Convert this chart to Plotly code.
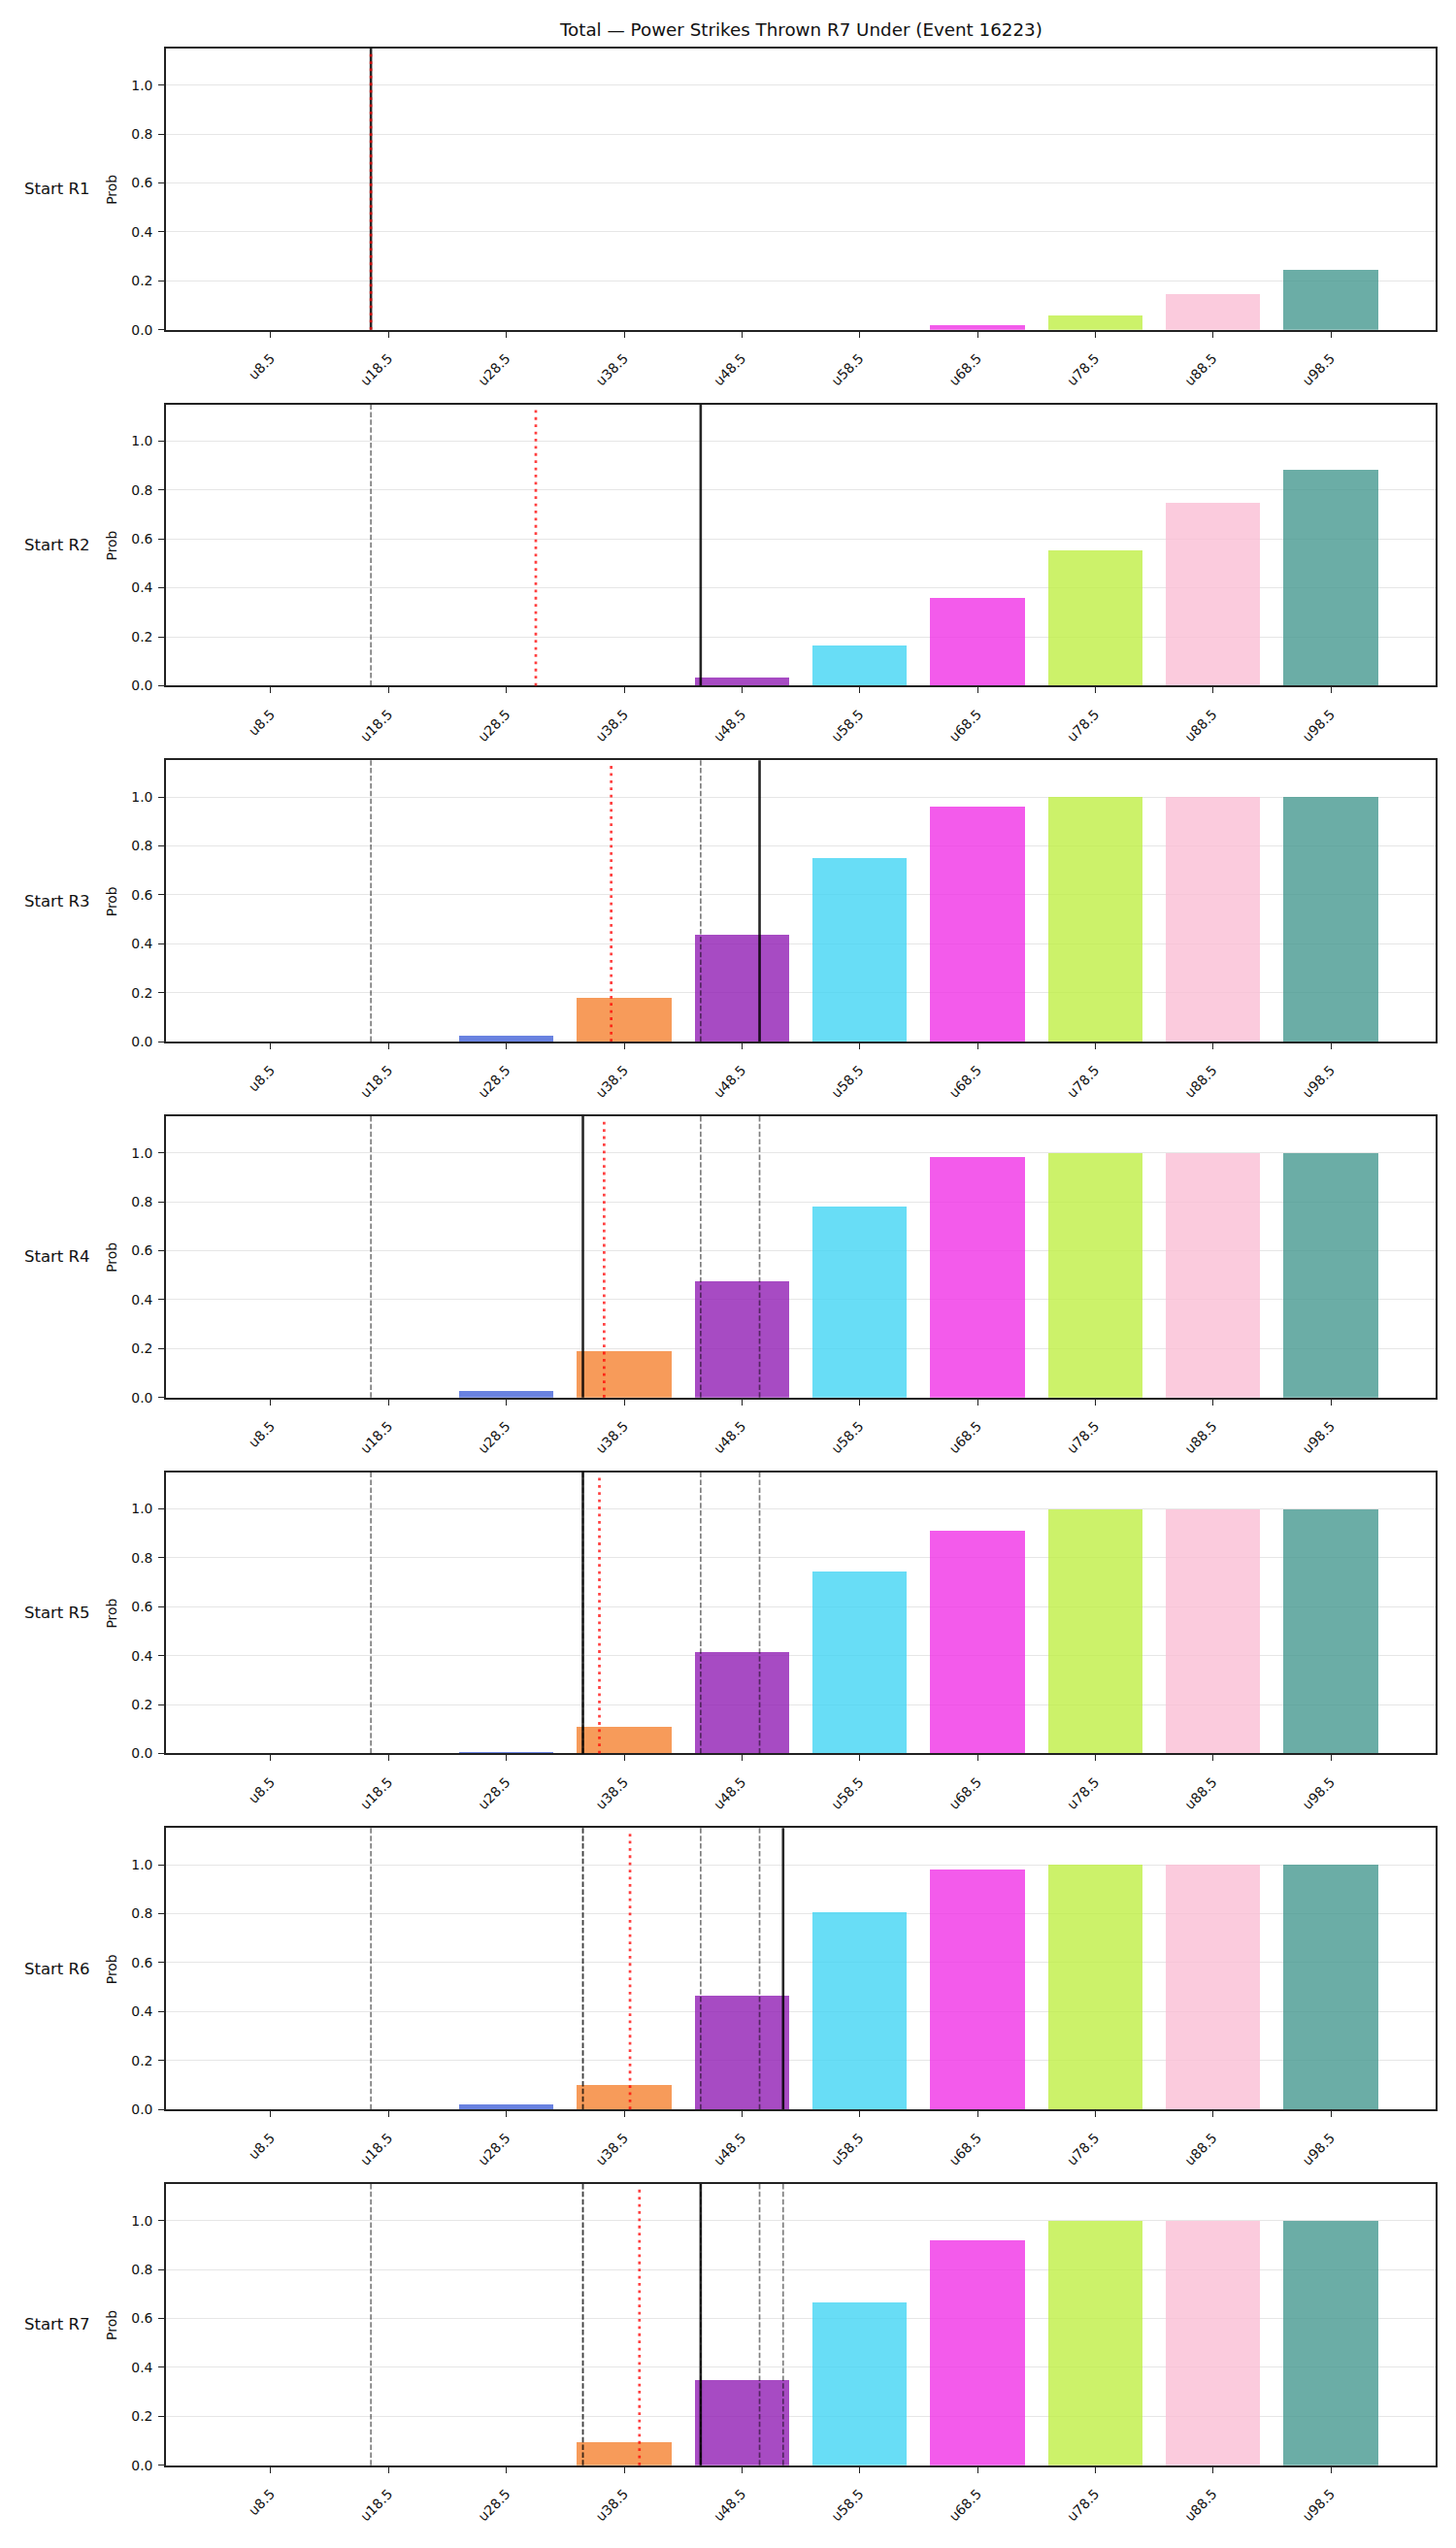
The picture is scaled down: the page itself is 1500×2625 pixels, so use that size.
import plotly.graph_objects as go
from plotly.subplots import make_subplots

# ---------------- data ----------------
thresholds = [8.5, 18.5, 28.5, 38.5, 48.5, 58.5, 68.5, 78.5, 88.5, 98.5]
tick_labels = ["u8.5", "u18.5", "u28.5", "u38.5", "u48.5", "u58.5", "u68.5", "u78.5", "u88.5", "u98.5"]
row_labels = ["Start R1", "Start R2", "Start R3", "Start R4", "Start R5", "Start R6", "Start R7"]

prob_r1 = [0, 0, 0, 0, 0, 0, 0.018, 0.058, 0.145, 0.244]
prob_r2 = [0, 0, 0, 0, 0.034, 0.165, 0.36, 0.556, 0.75, 0.886]
prob_r3 = [0, 0, 0.024, 0.18, 0.436, 0.751, 0.958, 0.998, 1.0, 1.0]
prob_r4 = [0, 0, 0.028, 0.189, 0.475, 0.78, 0.984, 1.0, 1.0, 1.0]
prob_r5 = [0, 0, 0.009, 0.112, 0.416, 0.746, 0.913, 1.0, 1.0, 1.0]
prob_r6 = [0, 0, 0.02, 0.10, 0.465, 0.805, 0.979, 1.0, 1.0, 1.0]
prob_r7 = [0, 0, 0, 0.093, 0.349, 0.666, 0.919, 1.0, 1.0, 1.0]
probs = [prob_r1, prob_r2, prob_r3, prob_r4, prob_r5, prob_r6, prob_r7]

# current-line (solid black) and projected (red dotted) positions, in strike units
current_vals = [17, 45, 50, 35, 35, 52, 45]
projected_vals = [17, 31, 37.4, 36.8, 36.4, 39.0, 39.8]

bar_colors = ["#3cb44b", "#ffe119", "#4363d8", "#f58231", "#911eb4",
              "#42d4f4", "#f032e6", "#bfef45", "#fabed4", "#469990"]

title_text = "Total \u2014 Power Strikes Thrown R7 Under (Event 16223)"

# ---------------- layout constants ----------------
W, H = 1500, 2625
FONT = "DejaVu Sans"
n = len(probs)
ax_left, ax_right = 171, 1479
first_top, pitch, panel_h = 50, 367.8, 290.8

fig = make_subplots(rows=n, cols=1)

def hex_rgba(h, a):
    h = h.lstrip("#")
    return "rgba(%d,%d,%d,%.2f)" % (int(h[0:2], 16), int(h[2:4], 16), int(h[4:6], 16), a)

for i in range(n):
    r = i + 1
    fig.add_trace(go.Bar(
        x=thresholds, y=probs[i], width=8,
        marker=dict(color=[hex_rgba(c, 0.8) for c in bar_colors], line=dict(width=0)),
        showlegend=False, hoverinfo="x+y"), row=r, col=1)

    top = first_top + i * pitch
    bot = top + panel_h
    yd = [1 - bot / H, 1 - top / H]
    xs = "x" if r == 1 else "x%d" % r
    ys = "y" if r == 1 else "y%d" % r
    xa = "xaxis" if r == 1 else "xaxis%d" % r
    ya = "yaxis" if r == 1 else "yaxis%d" % r

    fig.layout[xa].update(
        domain=[ax_left / W, ax_right / W], range=[-0.4, 107.4],
        tickmode="array", tickvals=thresholds, ticktext=tick_labels, tickangle=-45,
        ticks="outside", ticklen=6, tickwidth=1.3, tickcolor="#222",
        showline=True, linecolor="#222", linewidth=1.6, mirror=True,
        showgrid=False, zeroline=False,
        tickfont=dict(family=FONT, size=13.9, color="#111"),
        ticklabelstandoff=8)
    fig.layout[ya].update(
        domain=yd, range=[0, 1.15],
        tickmode="array", tickvals=[0, 0.2, 0.4, 0.6, 0.8, 1.0],
        ticktext=["0.0", "0.2", "0.4", "0.6", "0.8", "1.0"],
        ticks="outside", ticklen=6, tickwidth=1.3, tickcolor="#222",
        showline=True, linecolor="#222", linewidth=1.6, mirror=True,
        showgrid=True, gridcolor="#e6e6e6", gridwidth=1, zeroline=False,
        tickfont=dict(family=FONT, size=13.9, color="#111"),
        ticklabelstandoff=3)

    # previous rounds' lines: gray dashed
    for v in current_vals[:i]:
        fig.add_shape(type="line", x0=v, x1=v, y0=0, y1=1, xref=xs, yref=ys + " domain",
                      line=dict(color="rgba(0,0,0,0.5)", width=1.7, dash="5.5px,2.4px"),
                      layer="above")
    # current line: solid black
    fig.add_shape(type="line", x0=current_vals[i], x1=current_vals[i], y0=0, y1=1,
                  xref=xs, yref=ys + " domain",
                  line=dict(color="rgba(0,0,0,0.85)", width=2.6), layer="above")
    # projected: red dotted
    fig.add_shape(type="line", x0=projected_vals[i], x1=projected_vals[i], y0=0, y1=0.985,
                  xref=xs, yref=ys + " domain",
                  line=dict(color="rgba(255,0,0,0.75)", width=2.7, dash="2.8px,4.6px"),
                  layer="above")

    yc = 1 - (top + panel_h / 2) / H
    fig.add_annotation(text=row_labels[i], x=23 / W, y=yc, xref="paper", yref="paper",
                       xanchor="left", yanchor="middle", showarrow=False,
                       font=dict(family=FONT, size=16.5, color="#111"))
    fig.add_annotation(text="Prob", x=115 / W, y=yc, xref="paper", yref="paper",
                       xanchor="center", yanchor="middle", textangle=-90, showarrow=False,
                       font=dict(family=FONT, size=13.9, color="#111"))

fig.add_annotation(text=title_text, x=(ax_left + ax_right) / 2 / W, y=1 - 31 / H,
                   xref="paper", yref="paper", xanchor="center", yanchor="middle",
                   showarrow=False, font=dict(family=FONT, size=18.3, color="#111"))

fig.update_layout(width=W, height=H, margin=dict(l=0, r=0, t=0, b=0),
                  paper_bgcolor="white", plot_bgcolor="white", bargap=0,
                  font=dict(family=FONT))

fig.write_html("out.html")
